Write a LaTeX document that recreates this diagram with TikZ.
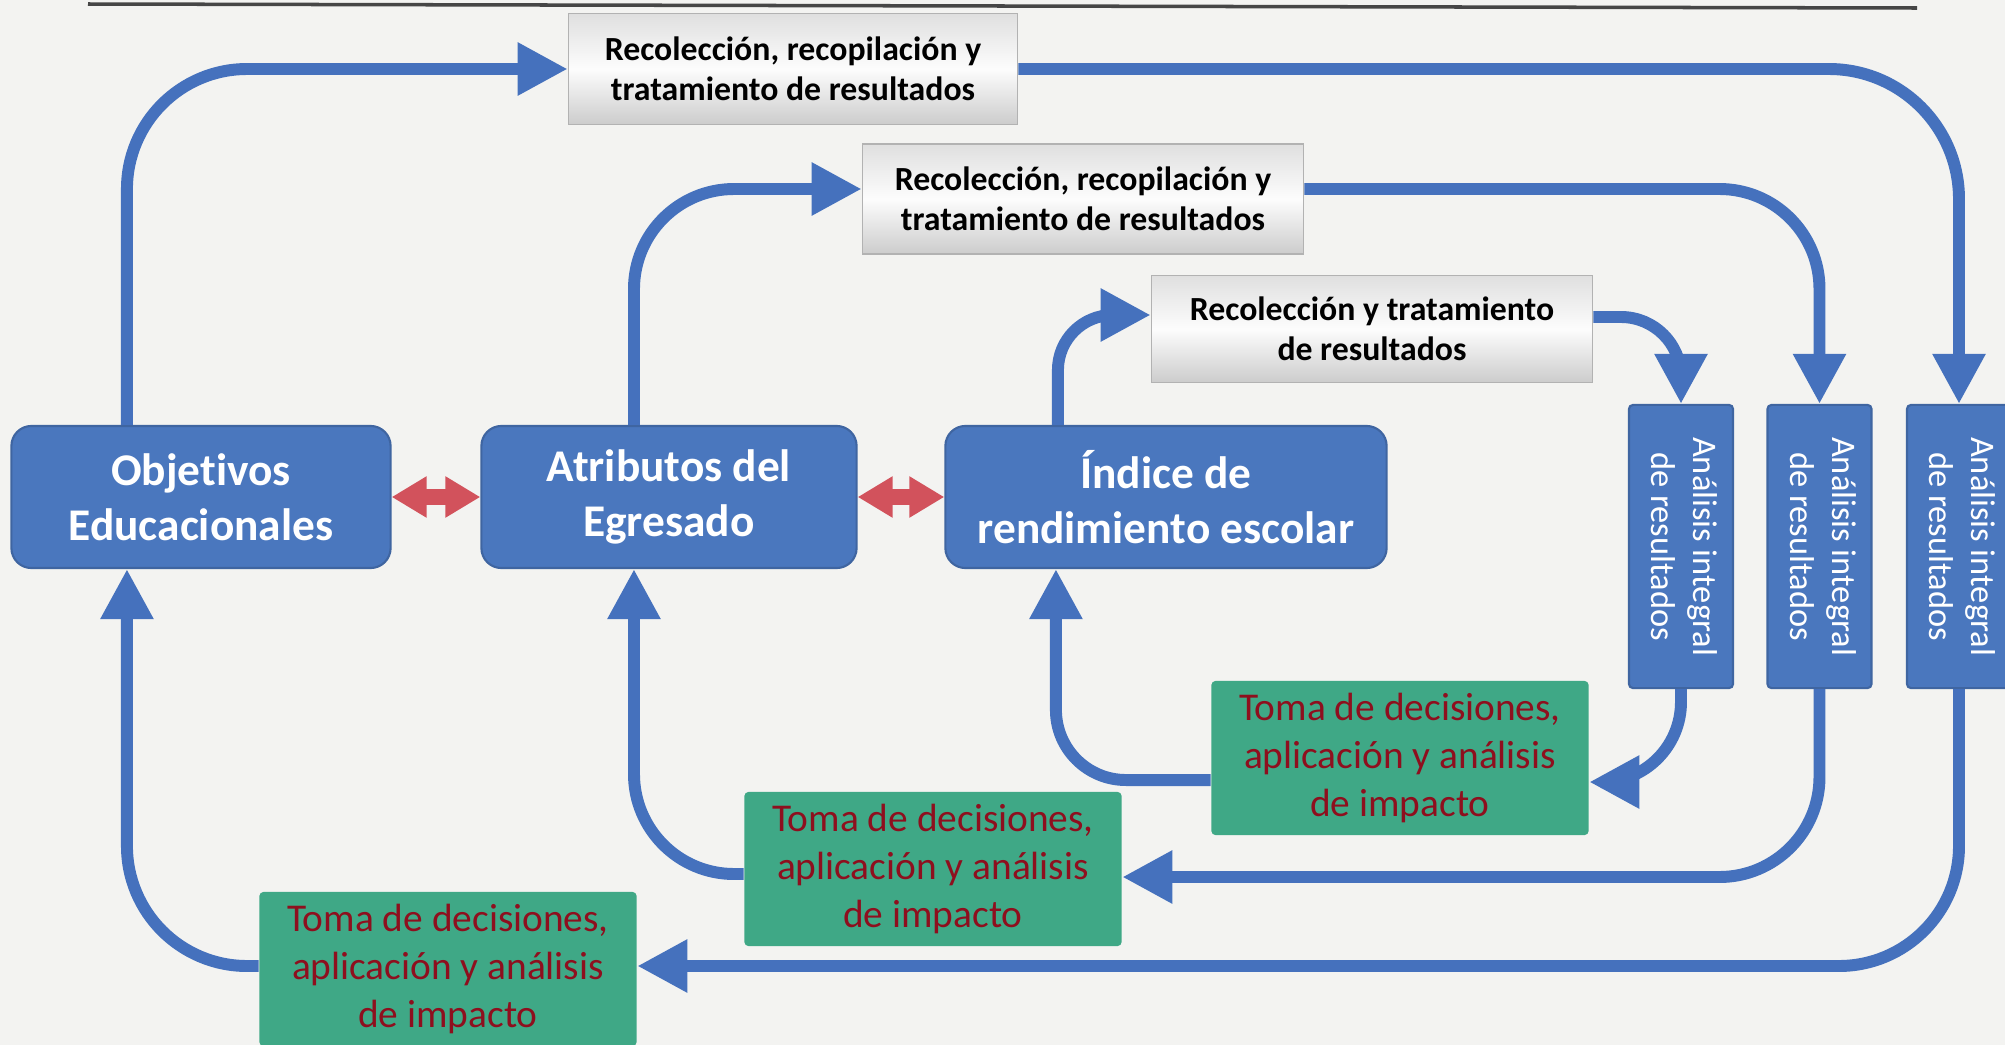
\documentclass[tikz,border=0pt]{standalone}
\usepackage{fontspec}
\setmainfont{Carlito}[Ligatures=NoCommon]
\usetikzlibrary{arrows.meta,calc}
\definecolor{BoxBlue}{HTML}{4A77BE}
\definecolor{FlowBlue}{HTML}{4571BD}
\definecolor{BoxGreen}{HTML}{3FA886}
\definecolor{TxtRed}{HTML}{8E0F1E}
\definecolor{ArrRed}{HTML}{D2525C}
\definecolor{Paper}{HTML}{F3F3F1}
\newcommand{\turntext}[1]{\rotatebox{-90}{\begin{tabular}{@{}c@{}}#1\end{tabular}}}

\begin{document}
\begin{tikzpicture}[x=0.01cm,y=-0.01cm,
  main/.style={fill=BoxBlue, draw=BoxBlue!85!black, line width=0.6pt, text=white, rounded corners=2mm, minimum height=1.42cm, inner sep=0pt, align=center, font=\bfseries\fontsize{12.9}{15.5}\selectfont},
  collect/.style={top color=gray!25, bottom color=gray!40, middle color=gray!2, draw=gray!60, inner sep=0pt, align=center, font=\bfseries\fontsize{9.6}{11.3}\selectfont},
  analysis/.style={fill=BoxBlue, draw=BoxBlue!85!black, line width=0.6pt, text=white, rounded corners=0.4mm, minimum width=1.04cm, minimum height=2.83cm, inner sep=0pt, font=\fontsize{9.8}{11.9}\selectfont},
  decide/.style={fill=BoxGreen, text=TxtRed, rounded corners=0.4mm, minimum width=3.77cm, minimum height=1.54cm, inner sep=0pt, align=center, font=\fontsize{11.2}{13.6}\selectfont},
  flow/.style={draw=FlowBlue, line width=3.4pt, -{Triangle[length=5mm,width=5mm]}},
  twoway/.style={draw=ArrRed, line width=4.3pt, {Triangle[length=3.5mm,width=3.9mm]}-{Triangle[length=3.5mm,width=3.9mm]}}
]
  \useasboundingbox (0,0) rectangle (2005,1045);
  \fill[Paper] (0,0) rectangle (2005,1045);
  \draw[gray!55!black, line width=1pt] (88,4) -- (1917,8);

  \node[main, minimum width=3.79cm] (obj) at (201,497) {Objetivos\\Educacionales};
  \node[main, minimum width=3.75cm] (attr) at (669,497) {Atributos del\\Egresado};
  \node[main, minimum width=4.41cm] (rend) at (1166,497) {Índice de\\rendimiento escolar};

  \node[collect, minimum width=4.49cm, minimum height=1.11cm] (col1) at (793,69) {Recolección, recopilación y\\tratamiento de resultados};
  \node[collect, minimum width=4.41cm, minimum height=1.10cm] (col2) at (1083,199) {Recolección, recopilación y\\tratamiento de resultados};
  \node[collect, minimum width=4.41cm, minimum height=1.07cm] (col3) at (1372,329) {Recolección y tratamiento\\de resultados};

  \foreach \i/\x in {1/1681, 2/1819.5, 3/1959}{
    \node[analysis] (an\i) at (\x,546.5) {\turntext{Análisis integral\\de resultados}};
  }

  \node[decide] (dec1) at (1400,758) {Toma de decisiones,\\aplicación y análisis\\de impacto};
  \node[decide] (dec2) at (933,869) {Toma de decisiones,\\aplicación y análisis\\de impacto};
  \node[decide] (dec3) at (448,969) {Toma de decisiones,\\aplicación y análisis\\de impacto};

  \draw[twoway] (obj.east) -- (attr.west);
  \draw[twoway] (attr.east) -- (rend.west);

  \draw[flow, rounded corners=12mm] ([xshift=-7.4mm]obj.north) |- (col1.west);
  \draw[flow, rounded corners=13mm] (col1.east) -| (an3.north);
  \draw[flow, rounded corners=10mm] ([xshift=-3.5mm]attr.north) |- ([yshift=1mm]col2.west);
  \draw[flow, rounded corners=10mm] ([yshift=1mm]col2.east) -| (an2.north);
  \draw[flow, rounded corners=5.5mm] ([xshift=-10.8mm]rend.north) |- ([yshift=1.4mm]col3.west);
  \draw[flow, rounded corners=6mm] ([yshift=1.2mm]col3.east) -| (an1.north);

  \draw[flow, rounded corners=8mm] (an1.south) |- ([yshift=-2.4mm]dec1.east);
  \draw[flow, rounded corners=10mm] (an2.south) |- ([yshift=-0.8mm]dec2.east);
  \draw[flow, rounded corners=12mm] (an3.south) |- ([yshift=0.3mm]dec3.east);
  \draw[flow, rounded corners=7mm] ([yshift=-2.2mm]dec1.west) -| ([xshift=-11mm]rend.south);
  \draw[flow, rounded corners=10mm] ([yshift=-0.5mm]dec2.west) -| ([xshift=-3.5mm]attr.south);
  \draw[flow, rounded corners=12mm] ([yshift=0.3mm]dec3.west) -| ([xshift=-7.4mm]obj.south);
\end{tikzpicture}
\end{document}
